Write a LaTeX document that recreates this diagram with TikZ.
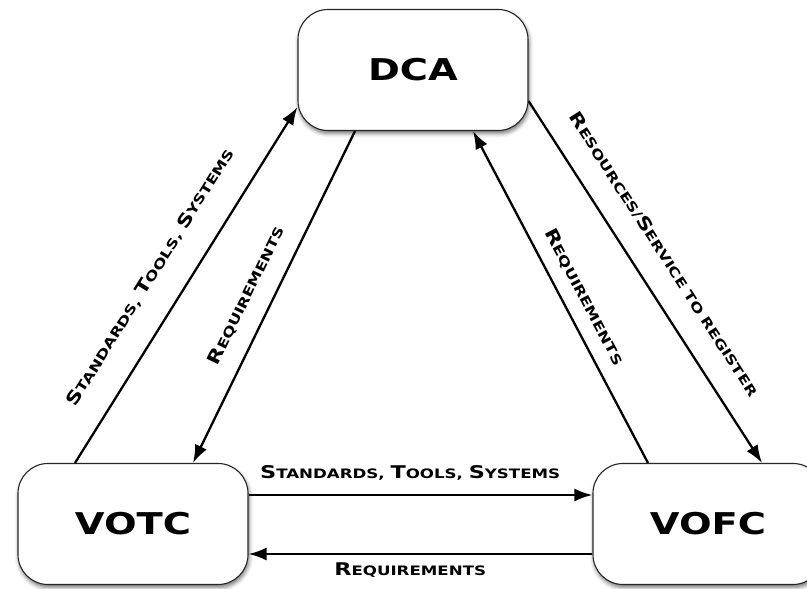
\documentclass[tikz,border=0pt]{standalone}
\usepackage{fontspec}
\newfontfamily\cpfont{DejaVu Sans}[FakeStretch=1.28]
\usetikzlibrary{arrows.meta,shadows.blur,calc}
\newcommand\bigc[1]{{\fontsize{17.5}{17.5}\selectfont #1}}
\tikzset{
  box/.style={draw=black!85, line width=1.1pt, fill=white, rounded corners=30pt,
    minimum width=230pt, minimum height=121pt,
    font=\cpfont\bfseries\fontsize{30}{30}\selectfont,
    blur shadow={shadow xshift=1pt, shadow yshift=-3pt, shadow blur radius=4pt, shadow opacity=55}},
  conn/.style={line width=2.3pt, -{Latex[length=18pt,width=13pt]}},
  lbl/.style={font=\cpfont\bfseries\fontsize{13}{13}\selectfont, inner sep=0pt, sloped},
}
\begin{document}
\begin{tikzpicture}[x=1pt,y=-1pt]
\useasboundingbox (0,0) rectangle (807,589);
\clip (0,0) rectangle (807,589);
\node[box] (dca) at (413,70) {DCA};
\node[box] (votc) at (133,524) {VOTC};
\node[box] (vofc) at (708,524) {VOFC};
\draw[conn] ($(votc.north)+(-58,0)$) -- node[lbl, above=26pt, pos=0.47] (l1) {\bigc{S}TANDARDS, \bigc{T}OOLS, \bigc{S}YSTEMS} ($(dca.south west)+(0,-24)$);
\draw[conn] ($(dca.south)+(-58,0)$) -- node[lbl, above=17pt, pos=0.53] (l2) {\bigc{R}EQUIREMENTS} ($(votc.north)+(60,0)$);
\draw[conn] ($(vofc.north)+(-60,0)$) -- node[lbl, above=13pt, pos=0.47] (l3) {\bigc{R}EQUIREMENTS} ($(dca.south)+(60,0)$);
\draw[conn] ($(dca.south east)+(0,-30)$) -- node[lbl, above=23pt, pos=0.47] (l4) {\bigc{R}ESOURCES/\bigc{S}ERVICE TO REGISTER} ($(vofc.north)+(54,0)$);
\draw[conn] ($(votc.east)+(0,-29)$) -- node[lbl, above=14pt, pos=0.47] (l5) {\bigc{S}TANDARDS, \bigc{T}OOLS, \bigc{S}YSTEMS} ($(vofc.west)+(0,-29)$);
\draw[conn] ($(vofc.west)+(0,30)$) -- node[lbl, below=8pt, pos=0.53] (l6) {\bigc{R}EQUIREMENTS} ($(votc.east)+(0,30)$);
\end{tikzpicture}
\end{document}
